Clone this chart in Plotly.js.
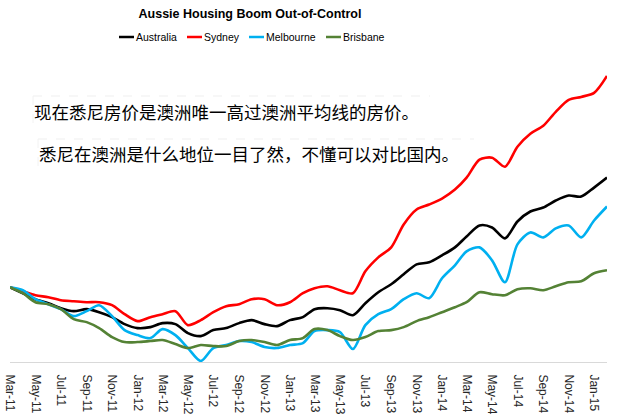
<!DOCTYPE html>
<html>
<head>
<meta charset="utf-8">
<script src="https://cdn.plot.ly/plotly-3.0.1.min.js"></script>
<style>html,body{margin:0;padding:0;background:#fff;}#chart{width:618px;height:416px;}</style>
</head>
<body>
<div id="chart"></div>
<script>
// Monthly observations (index, Mar-11 = 100)
const months = [
  '2011-03-01','2011-04-01','2011-05-01','2011-06-01','2011-07-01','2011-08-01','2011-09-01','2011-10-01','2011-11-01','2011-12-01',
  '2012-01-01','2012-02-01','2012-03-01','2012-04-01','2012-05-01','2012-06-01','2012-07-01','2012-08-01','2012-09-01','2012-10-01','2012-11-01','2012-12-01',
  '2013-01-01','2013-02-01','2013-03-01','2013-04-01','2013-05-01','2013-06-01','2013-07-01','2013-08-01','2013-09-01','2013-10-01','2013-11-01','2013-12-01',
  '2014-01-01','2014-02-01','2014-03-01','2014-04-01','2014-05-01','2014-06-01','2014-07-01','2014-08-01','2014-09-01','2014-10-01','2014-11-01','2014-12-01',
  '2015-01-01','2015-02-01'
];
const seriesNames = ['Australia', 'Sydney', 'Melbourne', 'Brisbane'];
const australia = [100.0, 98.8, 97.6, 96.8, 95.8, 95.2, 95.6, 95.0, 94.0, 92.6,
  91.8, 92.0, 92.8, 92.6, 90.8, 90.2, 91.4, 91.8, 92.8, 93.4,
  92.6, 92.2, 93.4, 94.0, 95.6, 95.8, 95.4, 94.4, 96.8, 99.0,
  100.6, 102.6, 104.6, 105.0, 106.4, 108.0, 110.2, 112.4, 112.0, 109.8,
  113.2, 115.2, 116.0, 117.4, 118.4, 118.2, 120.0, 122.0];
const sydney = [100.0, 99.2, 98.4, 98.0, 97.4, 97.2, 97.0, 97.0, 96.4, 94.6,
  93.2, 94.0, 94.6, 95.2, 92.4, 93.4, 95.0, 96.2, 96.6, 97.6,
  97.6, 96.4, 97.0, 98.8, 99.8, 100.2, 99.4, 98.8, 103.2, 106.0,
  108.0, 112.6, 115.6, 116.6, 117.8, 119.6, 122.0, 125.6, 126.0, 124.2,
  128.2, 130.8, 132.4, 135.2, 137.6, 138.2, 139.0, 142.4];
const melbourne = [100.0, 99.4, 97.6, 96.6, 95.6, 94.2, 95.2, 96.4, 94.2, 91.4,
  90.4, 89.8, 91.6, 90.4, 87.8, 85.2, 87.8, 88.4, 89.2, 89.0,
  88.0, 87.8, 88.4, 88.8, 91.2, 91.4, 91.0, 87.6, 92.4, 94.6,
  95.6, 97.6, 98.8, 97.8, 101.8, 104.4, 107.2, 108.0, 105.4, 101.0,
  108.6, 111.0, 110.0, 111.8, 112.4, 110.0, 113.4, 116.2];
const brisbane = [100.0, 98.8, 97.0, 96.6, 95.6, 93.6, 93.0, 91.8, 90.0, 89.0,
  89.0, 89.2, 89.4, 88.6, 87.8, 88.4, 88.2, 88.2, 89.2, 89.4,
  89.0, 88.4, 89.4, 89.8, 91.6, 91.4, 90.2, 89.4, 90.0, 91.2,
  91.4, 92.0, 93.2, 94.0, 95.0, 96.0, 97.0, 99.0, 98.6, 98.4,
  99.6, 99.8, 99.4, 100.2, 101.0, 101.2, 102.8, 103.4];
const seriesValues = [australia, sydney, melbourne, brisbane];
const seriesColors = ['#000000', '#ff0000', '#00b0f0', '#548235'];
const titleText = 'Aussie Housing Boom Out-of-Control';
const note1 = '现在悉尼房价是澳洲唯一高过澳洲平均线的房价。';
const note2 = '悉尼在澳洲是什么地位一目了然，不懂可以对比国内。';

// layout geometry
const W = 618, H = 416, ML = 10, MR = 11, MT = 60, MB = 54;
const PW = W - ML - MR, PH = H - MT - MB;
const px = x => (x - ML) / PW;
const py = y => (H - MB - y) / PH;

const traces = seriesNames.map((n, i) => ({
  type: 'scatter', mode: 'lines', name: n,
  x: months, y: seriesValues[i],
  line: {color: seriesColors[i], width: 2.6, shape: 'spline', smoothing: 0.8},
  hoverinfo: 'skip', showlegend: false
}));

const shapes = [];
const annotations = [];
// custom legend
const legLineX = [119, 187, 249, 326];
legLineX.forEach((lx, i) => {
  shapes.push({type: 'line', xref: 'paper', yref: 'paper',
    x0: px(lx), x1: px(lx + 15), y0: py(37), y1: py(37),
    line: {color: seriesColors[i], width: 2.5}});
  annotations.push({xref: 'paper', yref: 'paper', x: px(lx + 16), y: py(37.5),
    xanchor: 'left', yanchor: 'middle', showarrow: false, text: seriesNames[i],
    font: {family: 'Liberation Sans, Arial, sans-serif', size: 10.5, color: '#000'},
    borderpad: 0});
});
// faint dashed note box edges
[[33, 430, 96, 127], [38, 474, 139, 170]].forEach(b => {
  shapes.push({type: 'line', xref: 'paper', yref: 'paper', x0: px(b[0]), x1: px(b[1]), y0: py(b[2]), y1: py(b[2]),
    line: {color: '#efefef', width: 1, dash: 'dash'}});
  shapes.push({type: 'line', xref: 'paper', yref: 'paper', x0: px(b[0]), x1: px(b[0]), y0: py(b[2]), y1: py(b[3]),
    line: {color: '#f2f2f2', width: 1, dash: 'dash'}});
});
annotations.push({xref: 'paper', yref: 'paper', x: px(33), y: py(111), xanchor: 'left', yanchor: 'middle',
  showarrow: false, text: note1, borderpad: 0,
  font: {family: 'Noto Sans CJK SC, sans-serif', size: 17.5, color: '#000'}});
annotations.push({xref: 'paper', yref: 'paper', x: px(38), y: py(153), xanchor: 'left', yanchor: 'middle',
  showarrow: false, text: note2, borderpad: 0,
  font: {family: 'Noto Sans CJK SC, sans-serif', size: 17.5, color: '#000'}});

const layout = {
  width: W, height: H,
  margin: {l: ML, r: MR, t: MT, b: MB, pad: 0},
  paper_bgcolor: '#ffffff', plot_bgcolor: '#ffffff',
  showlegend: false,
  title: {text: '<b>' + titleText + '</b>', xref: 'container', yref: 'container',
    x: 250 / W, xanchor: 'center', y: 1 - 14 / H, yanchor: 'middle',
    font: {family: 'Liberation Sans, Arial, sans-serif', size: 12.5, color: '#000'}},
  xaxis: {type: 'date', range: ['2011-03-01', '2015-02-01'],
    tickformat: '%b-%y', dtick: 'M2', tick0: '2011-03-01', tickangle: 90,
    showline: true, linecolor: '#d9d9d9', linewidth: 1, showgrid: false, zeroline: false,
    ticks: '', ticklabelstandoff: 9,
    tickfont: {family: 'Liberation Sans, Arial, sans-serif', size: 12, color: '#262626'}},
  yaxis: {range: [85, 145.6], visible: false, showgrid: false, zeroline: false},
  shapes: shapes, annotations: annotations
};

Plotly.newPlot('chart', traces, layout, {staticPlot: true, displayModeBar: false});
</script>
</body>
</html>
